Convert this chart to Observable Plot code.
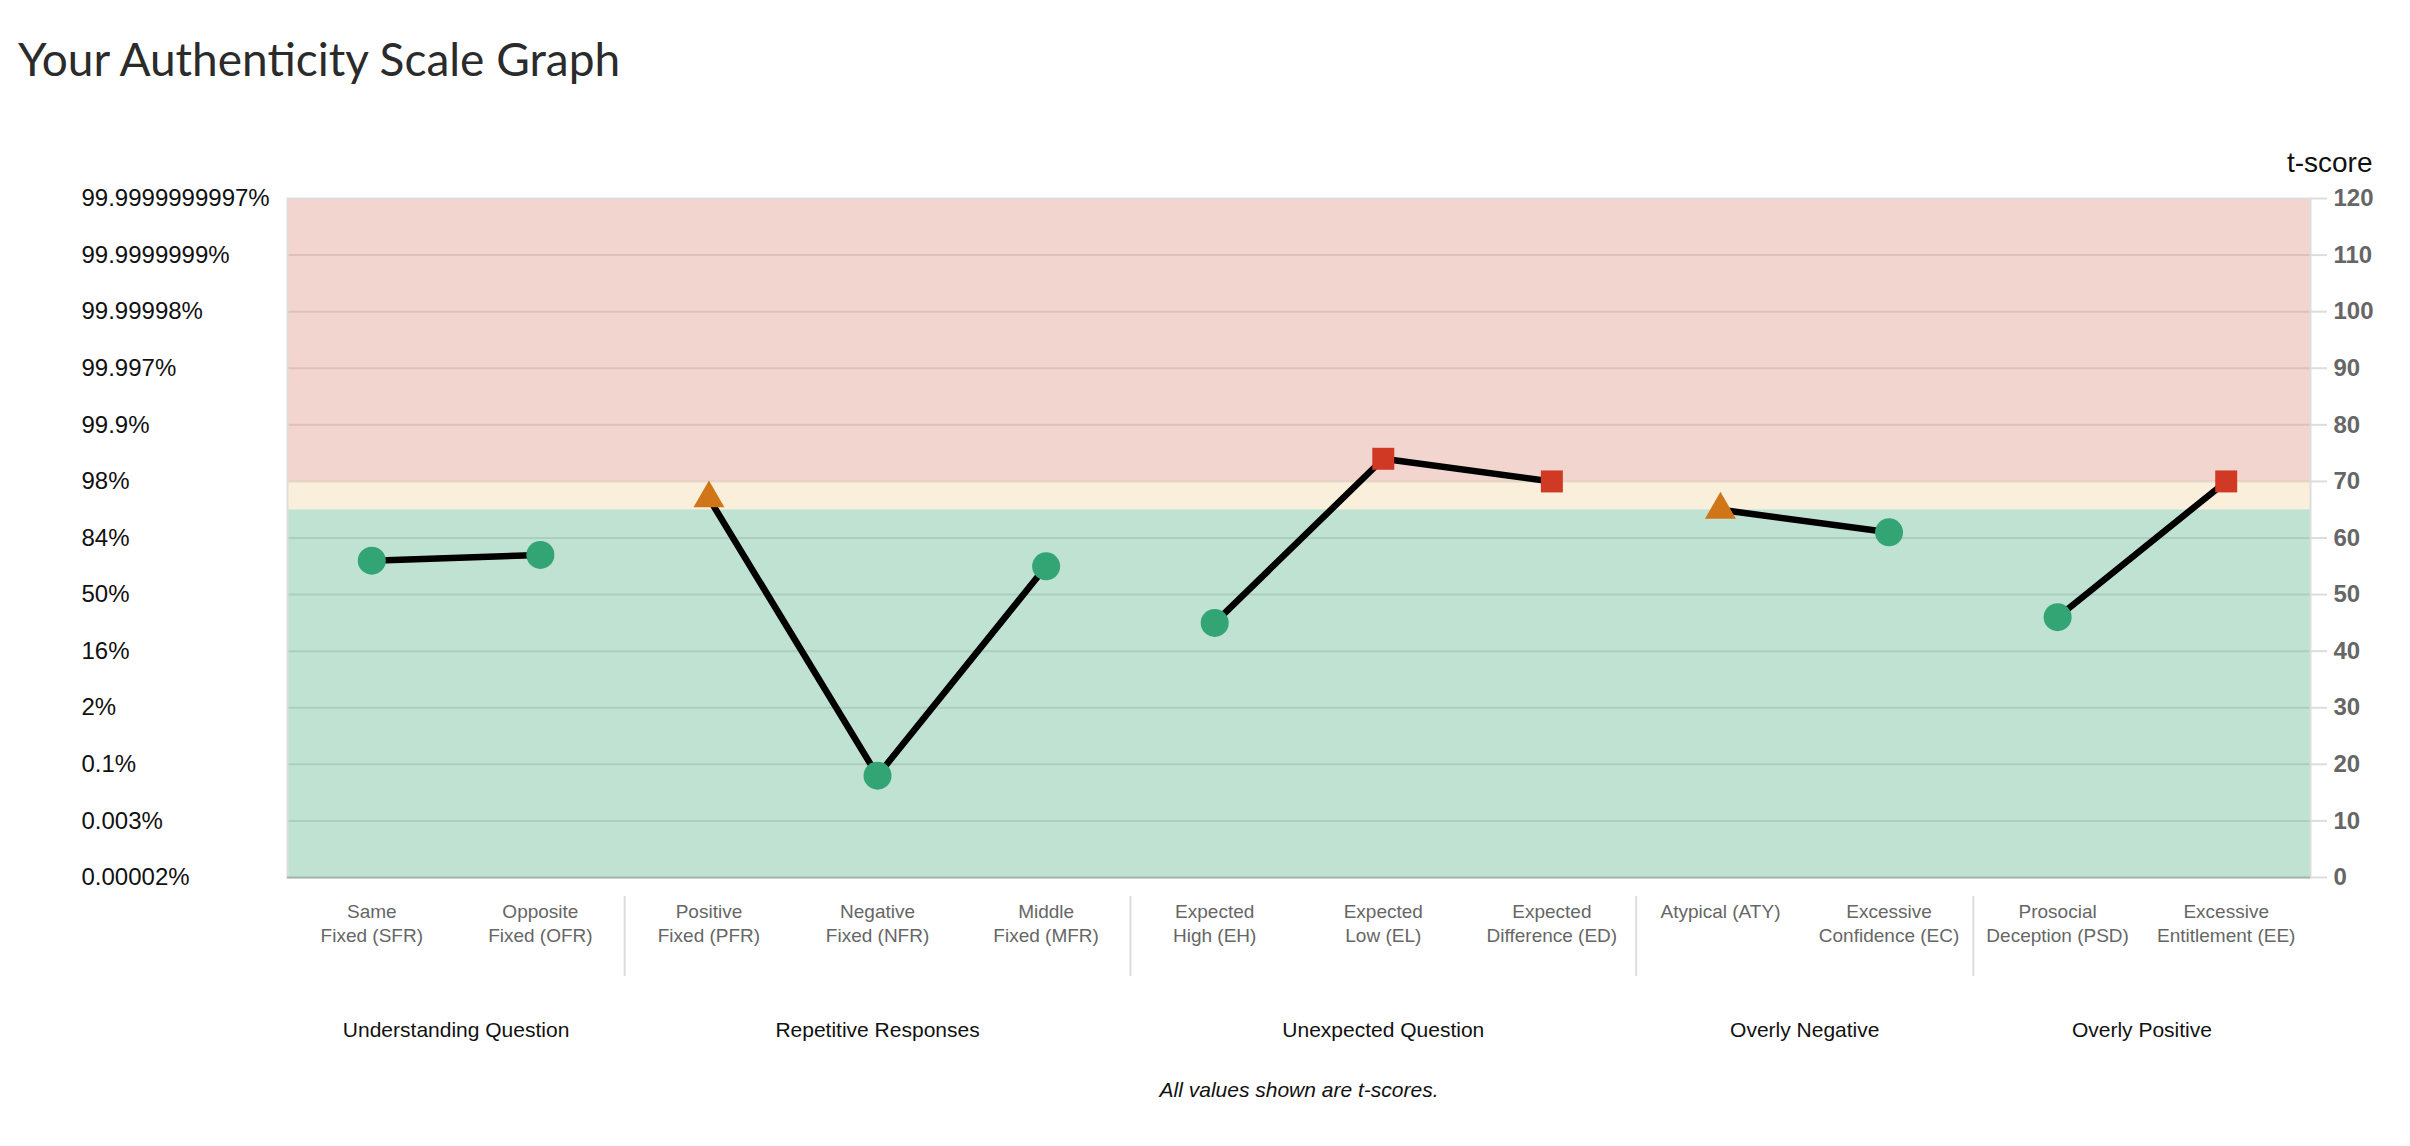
<!DOCTYPE html>
<html><head><meta charset="utf-8">
<script src="https://cdn.jsdelivr.net/npm/d3@7"></script>
<script src="https://cdn.jsdelivr.net/npm/@observablehq/plot@0.6"></script>
<style>
body{margin:0;background:#fff;}
#title{height:110px;box-sizing:border-box;padding:38px 0 0 18px;font:46px Lato, "Open Sans", sans-serif;color:#2b2b2b;line-height:42px;}
</style></head><body>
<div id="title">Your Authenticity Scale Graph</div>
<div id="chart"></div>
<script>
// ---- data ----
const codes = ["SFR","OFR","PFR","NFR","MFR","EH","EL","ED","ATY","EC","PSD","EE"];
const tickLabels = ["Same\nFixed (SFR)","Opposite\nFixed (OFR)","Positive\nFixed (PFR)","Negative\nFixed (NFR)","Middle\nFixed (MFR)","Expected\nHigh (EH)","Expected\nLow (EL)","Expected\nDifference (ED)","Atypical (ATY)","Excessive\nConfidence (EC)","Prosocial\nDeception (PSD)","Excessive\nEntitlement (EE)"];
const scores = [56,57,67,18,55,45,74,70,65,61,46,70];
const statuses = ["normal","normal","caution","normal","normal","normal","elevated","elevated","caution","normal","normal","elevated"];
const groupNames = ["Understanding Question","Repetitive Responses","Unexpected Question","Overly Negative","Overly Positive"];
const groupSizes = [2,3,3,2,2];
const tTicks = [0,10,20,30,40,50,60,70,80,90,100,110,120];
const pctLabels = ["0.00002%","0.003%","0.1%","2%","16%","50%","84%","98%","99.9%","99.997%","99.99998%","99.9999999%","99.9999999997%"];
const zoneBounds = [0,65,70,120];
const caption = "All values shown are t-scores.";

// ---- derived tables ----
const zoneColors = ["#bfe2d2","#faefda","#f3d5d0"];
const zones = zoneColors.map((c,i)=>({lo:zoneBounds[i],hi:zoneBounds[i+1],fill:c}));
const groupStarts = groupSizes.map((s,i)=>d3.sum(groupSizes.slice(0,i)));
const groups = groupNames.map((n,i)=>({name:n, mid:groupStarts[i]+groupSizes[i]/2}));
const boundaries = groupStarts.slice(1);
const groupOf = codes.map((c,i)=>groupStarts.filter(s=>s<=i).length-1);
const points = codes.map((c,i)=>({code:c, pos:i+0.5, t:scores[i], status:statuses[i], group:groupOf[i]}));

const W = 2410, H = 1036;
const chart = Plot.plot({
  width: W, height: H,
  marginTop: 88, marginBottom: 269, marginLeft: 287, marginRight: 100,
  x: {domain:[0,codes.length]},
  y: {domain:[0,120]},
  style: {fontFamily:"'Liberation Sans', Arial, sans-serif", background:"#fff", overflow:"visible"},
  marks: [
    Plot.rect(zones, {y1:"lo", y2:"hi", fill:"fill"}),
    Plot.ruleY(tTicks.slice(1,-1), {stroke:"#000", strokeOpacity:0.09, strokeWidth:2}),
    Plot.frame({stroke:"#ddd", strokeWidth:2}),
    Plot.ruleY([0], {stroke:"#a2b5ac", strokeWidth:2}),
    Plot.ruleX(boundaries, {x:d=>d, stroke:"#ddd", strokeWidth:2, insetTop:698, insetBottom:-99}),
    Plot.line(points, {x:"pos", y:"t", z:"group", stroke:"#000", strokeWidth:6.5}),
    Plot.dot(points.filter(d=>d.status==="normal"), {x:"pos", y:"t", r:14, fill:"#33a474", symbol:"circle"}),
    Plot.dot(points.filter(d=>d.status==="caution"), {x:"pos", y:"t", r:11.5, fill:"#d07619", symbol:"triangle"}),
    Plot.dot(points.filter(d=>d.status==="elevated"), {x:"pos", y:"t", r:12.4, fill:"#d03a24", symbol:"square"}),
    Plot.axisY({anchor:"left", ticks:tTicks, tickSize:0, tickPadding:0, textAnchor:"start", dx:-206,
      tickFormat:v=>pctLabels[tTicks.indexOf(v)], fontSize:24, color:"#111", label:null}),
    Plot.axisY({anchor:"right", ticks:tTicks, tickSize:16, tickPadding:7, stroke:"#ddd", strokeWidth:2,
      color:"#666", fontSize:24, fontWeight:"bold", label:null}),
    Plot.text(["t-score"], {frameAnchor:"top-right", dx:62, dy:-46, textAnchor:"end", fontSize:28, fill:"#111"}),
    Plot.axisX({ticks:points.map(d=>d.pos), tickSize:0, tickPadding:24, lineHeight:1.25,
      tickFormat:v=>tickLabels[Math.floor(v)], fontSize:19, color:"#666", label:null}),
    Plot.text(groups, {x:"mid", text:"name", frameAnchor:"bottom", dy:159, fontSize:21, fill:"#111"}),
    Plot.text([caption], {frameAnchor:"bottom", dy:219, fontSize:21, fontStyle:"italic", fill:"#111"})
  ]
});
document.getElementById("chart").appendChild(chart);
</script>
</body></html>
